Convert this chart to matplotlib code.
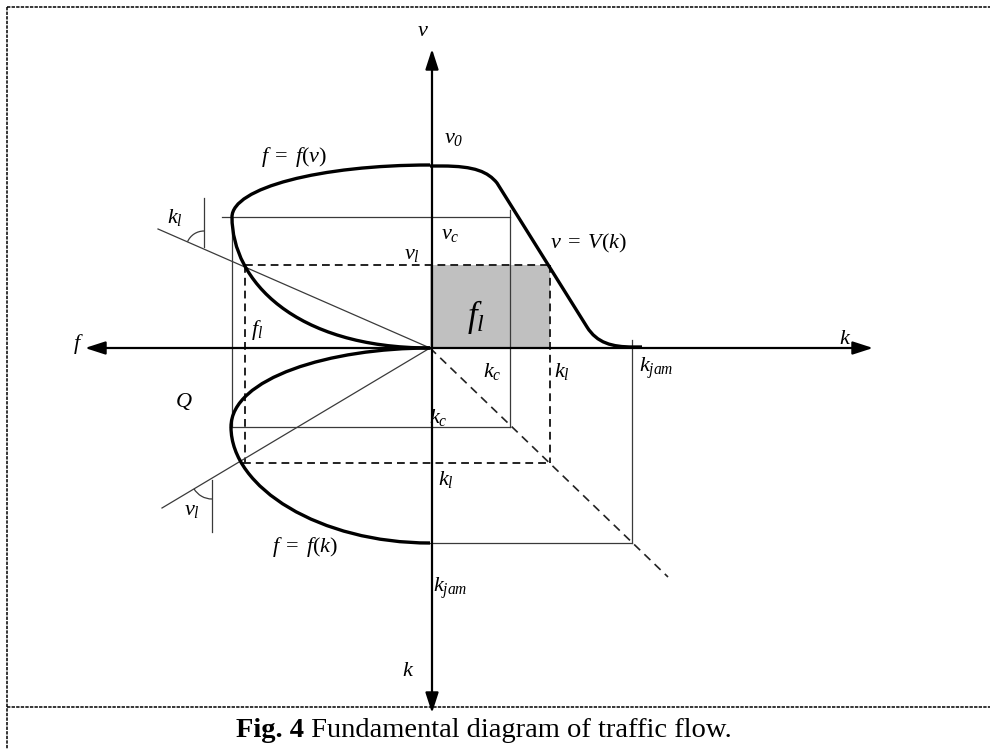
import numpy as np
import matplotlib as mpl
import matplotlib.pyplot as plt
from matplotlib.path import Path
from matplotlib.patches import PathPatch, Arc, Rectangle

mpl.use("agg")
mpl.rcParams.update(
    {
        "font.family": "Liberation Serif",
        "mathtext.fontset": "custom",
        "mathtext.rm": "Liberation Serif",
        "mathtext.it": "Liberation Serif:italic",
        "mathtext.sf": "Liberation Serif:italic",  # italic digits in subscripts
        "mathtext.bf": "Liberation Serif:bold",
    }
)

# characteristic values (drawing units, origin = crossing of the axes)
v0, vc, vl = 183, 131, 83          # speeds on the upper axis
kc, kl, kjam = 80, 120, 202        # densities on the right axis
kc_d, kl_d, kjam_d = 79, 115, 195  # same densities on the lower axis
fc, fl = 198, 185                  # capacity flow and flow at v_l

# v = V(k), control points of the bezier path
speed_pts = [(0, 182), (12, 182), (45, 182), (58, 176), (67, 165),
             (157, 21), (167, 5), (182, 1), (203, 1), (212, 1)]
# f = f(v) upper left, f = f(k) lower left
flow_v_pts = [(0, 183), (-110, 183), (-198, 160), (-198, 131),
              (-198, 68), (-136, 0), (0, 0)]
flow_k_pts = [(0, 0), (-100, 0), (-199, -30), (-199, -79),
              (-199, -140), (-110, -195), (0, -195)]

M, L, C = Path.MOVETO, Path.LINETO, Path.CURVE4

fig = plt.figure(figsize=(9.9, 7.49), dpi=100)
ax = fig.add_axes([0, 0, 1, 1])
ax.set_xlim(-430, 560)
ax.set_ylim(-401, 348)
ax.axis("off")

thin = dict(color="#3a3a3a", lw=0.9)
dash = dict(color="#222222", lw=1.4, ls=(0, (4, 2.6)))

# shaded flow rectangle
ax.add_patch(Rectangle((0, 0), kl, vl, facecolor="#c0c0c0", edgecolor="none", zorder=0))

# helper lines
ax.plot([-208, kc], [vc, vc], **thin)
ax.plot([kc, kc], [vc + 7, -kc_d], **thin)
ax.plot([-fc - 2, kc], [-kc_d, -kc_d], **thin)
ax.plot([-fc, -fc], [vc, -kc_d], **thin)
ax.plot([kjam, kjam], [8, -kjam_d], **thin)
ax.plot([0, kjam], [-kjam_d, -kjam_d], **thin)
ax.plot([-fl, kl], [vl, vl], **dash)
ax.plot([kl, kl], [vl, -kl_d], **dash)
ax.plot([-fl - 2, kl], [-kl_d, -kl_d], **dash)
ax.plot([-fl, -fl], [vl, -kl_d], **dash)
ax.plot([0, 238], [0, -229], color="#222222", lw=1.2, ls=(0, (5, 3.5)))

# tangents through the origin with angle marks
ax.plot([-272, 0], [119, 0], **thin)
ax.plot([-268, 0], [-160, 0], **thin)
ax.plot([-226, -226], [150, 101], **thin)
ax.add_patch(Arc((-226, 99), 36, 36, theta1=90, theta2=156.4, **thin))
ax.plot([-218, -218], [-132, -184], **thin)
ax.add_patch(Arc((-218, -130), 42, 42, theta1=210.8, theta2=270, **thin))

# axes with arrows
arrow = dict(arrowstyle="<|-|>,head_length=0.68,head_width=0.22", color="black",
             lw=1.6, shrinkA=0, shrinkB=0, mutation_scale=18)
ax.annotate("", xy=(2, 299), xytext=(2, -365), arrowprops=arrow)
ax.annotate("", xy=(-345, 0), xytext=(443, 0), arrowprops=arrow)

# curves
for pts, codes in [
    (speed_pts, [M, L, C, C, C, L, C, C, C, L]),
    (flow_v_pts, [M, C, C, C, C, C, C]),
    (flow_k_pts, [M, C, C, C, C, C, C]),
]:
    ax.add_patch(PathPatch(Path(pts, codes), fill=False, lw=2.4, color="black",
                           capstyle="butt", zorder=3))

# labels
fs = 16
labels = [
    (-7, 316, r"$v$"), (-352, 4, r"$f$"), (415, 8, r"$k$"), (-22, -324, r"$k$"),
    (24, 210, r"$v_\mathsf{0}$"), (-136, 191, r"$f\;=\;f(v)$"), (-255, 130, r"$k_l$"),
    (20, 113, r"$v_c$"), (-18, 93, r"$v_l$"), (159, 105, r"$v\;=\;V(k)$"),
    (-173, 18, r"$f_l$"), (62, -24, r"$k_c$"), (132, -24, r"$k_l$"),
    (226, -20, r"$k_{jam}$"), (-246, -54, r"$Q$"), (8, -69, r"$k_c$"),
    (16, -132, r"$k_l$"), (-238, -162, r"$v_l$"), (-125, -199, r"$f\;=\;f(k)$"),
    (20, -240, r"$k_{jam}$"),
]
for x, y, s in labels:
    ax.text(x, y, s, fontsize=fs, ha="center", va="center")
ax.text(46, 31, r"$f_l$", fontsize=25, ha="center", va="center")

# dashed frame and caption
frame = dict(color="black", lw=1.1, ls=(0, (2.2, 0.8)))
ax.plot([-423, 560], [341, 341], **frame)
ax.plot([-423, -423], [341, -401], **frame)
ax.plot([-423, 560], [-359, -359], **frame)
cap = ax.text(-194, -389, "Fig. 4", fontsize=20.5, fontweight="bold", ha="left", va="baseline")
ax.annotate(" Fundamental diagram of traffic flow.", xy=(1, 0), xycoords=cap,
            fontsize=20.5, ha="left", va="bottom")

plt.savefig("out.png", dpi=100)
